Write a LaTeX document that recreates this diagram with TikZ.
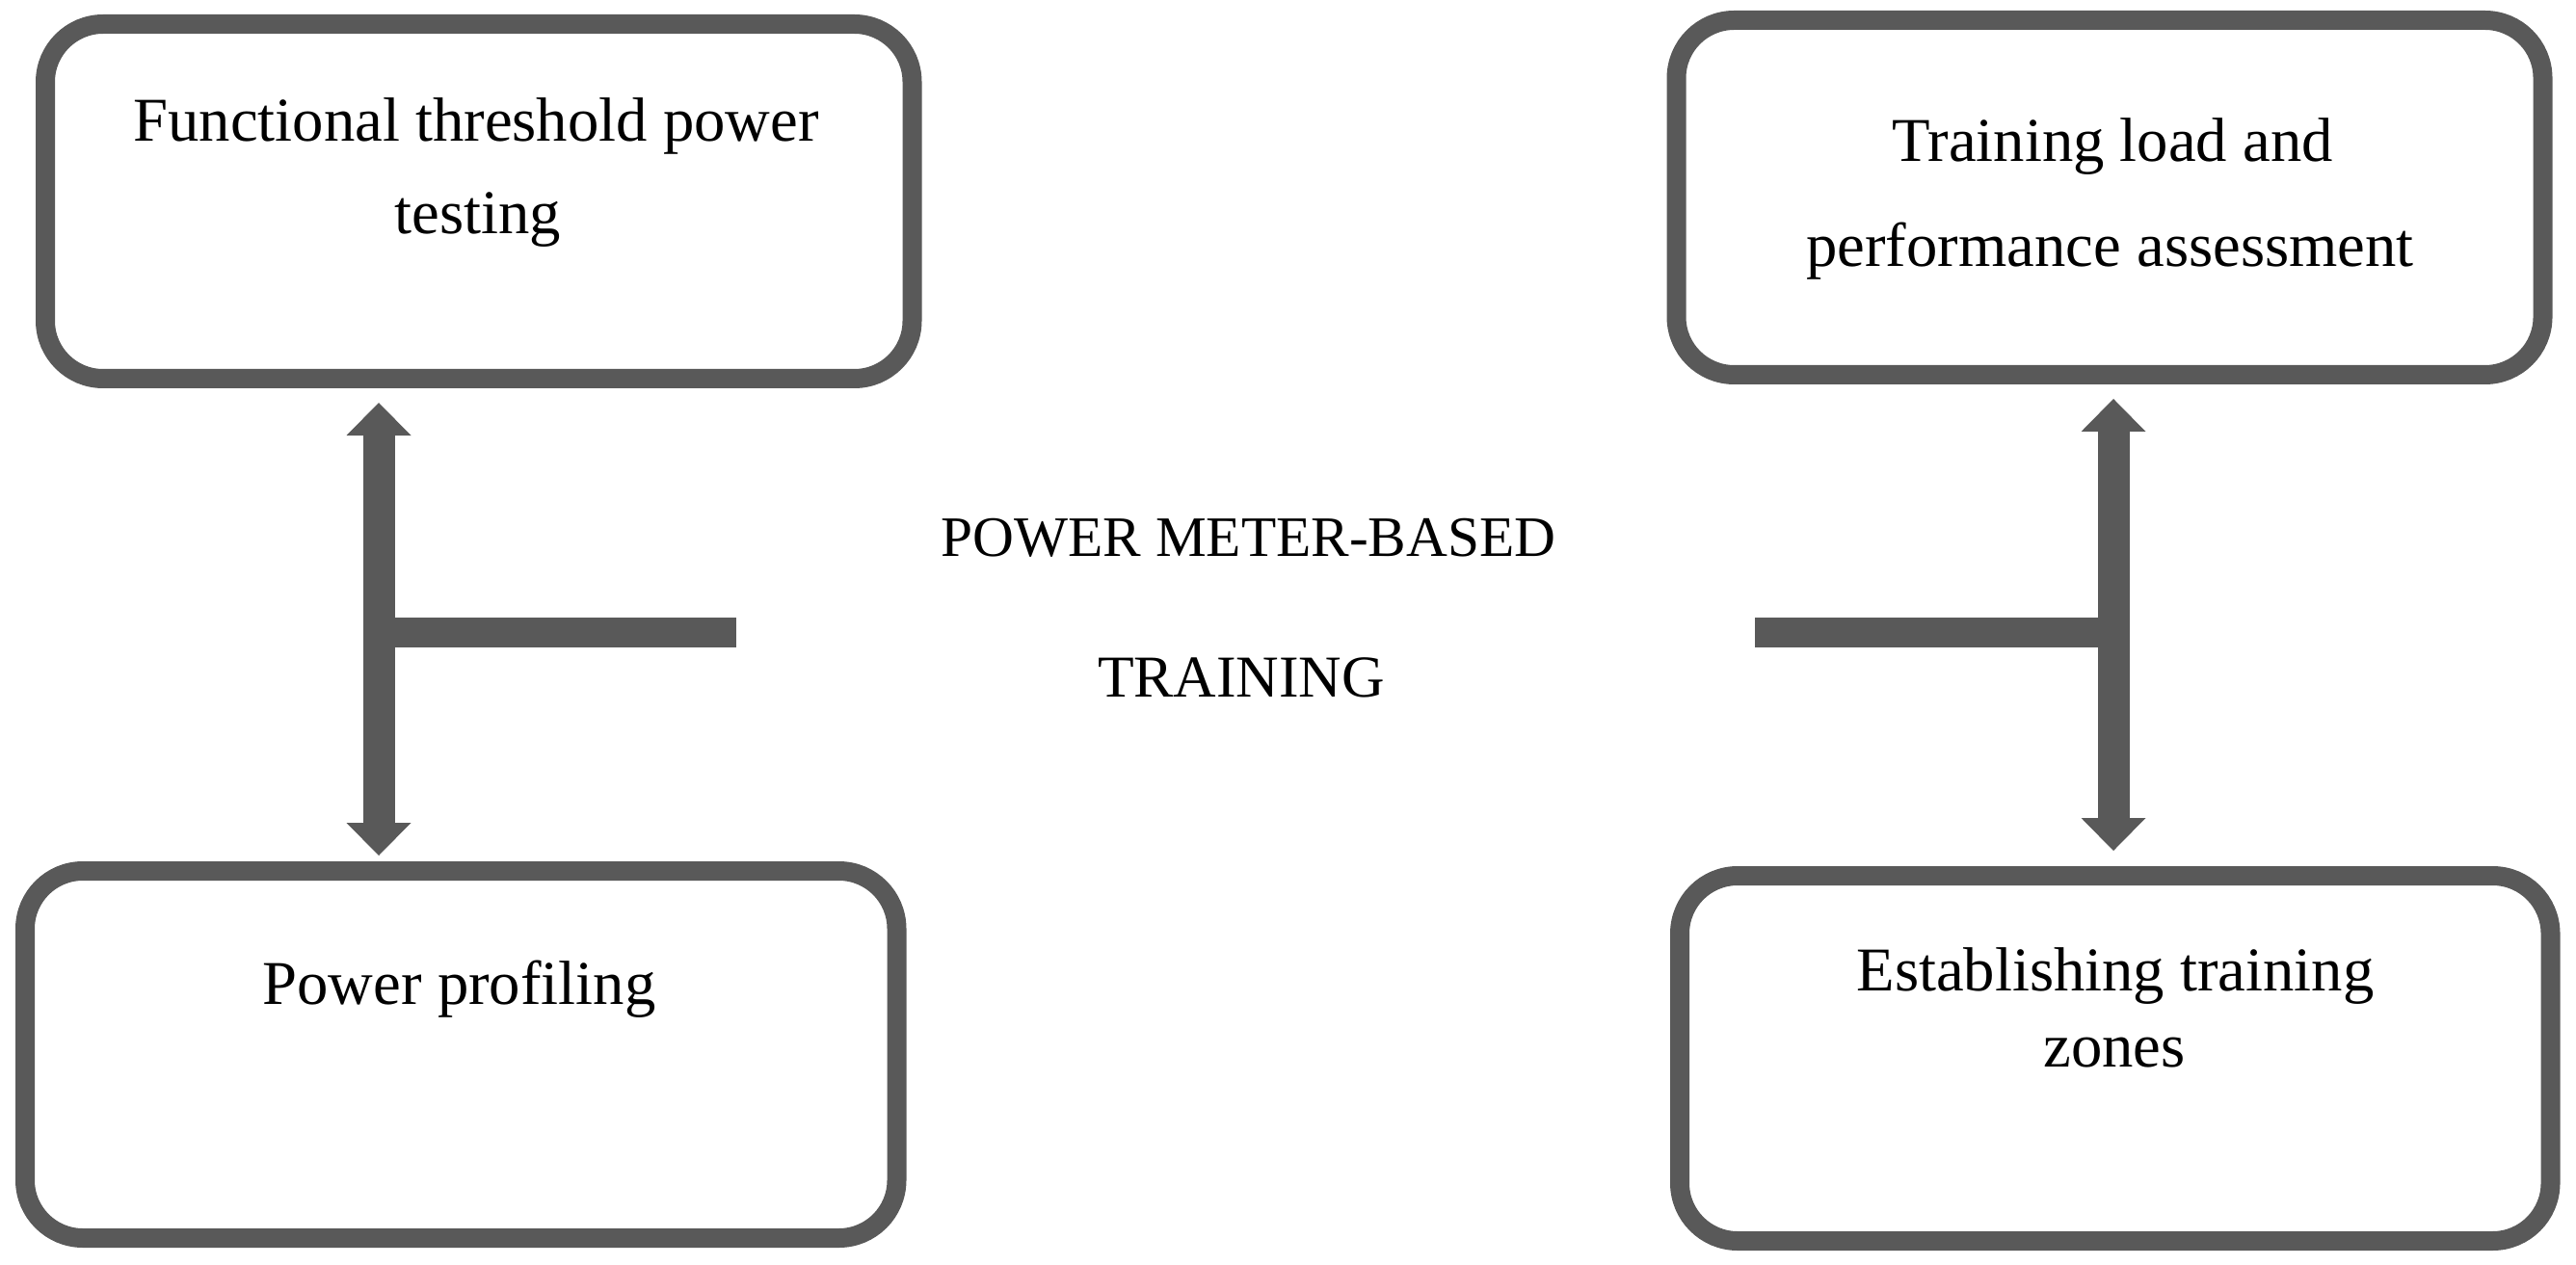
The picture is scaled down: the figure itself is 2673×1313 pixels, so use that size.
\documentclass[tikz,border=0pt]{standalone}
\usepackage{fontspec}
\setmainfont{Liberation Serif}
\usetikzlibrary{arrows.meta}
\definecolor{boxgray}{RGB}{89,89,89}
\begin{document}
\begin{tikzpicture}[x=0.3pt,y=-0.3pt,
  box/.style={draw=boxgray, line width=6pt, rounded corners=18pt, inner sep=0pt},
  lbl/.style={anchor=base, inner sep=0pt, font=\fontsize{19.4}{22}\selectfont},
  cap/.style={anchor=base, inner sep=0pt, font=\fontsize{#1}{22}\selectfont},
  conn/.style={draw=boxgray, line width=9.9pt},
  bar/.style={draw=boxgray, line width=9.3pt},
  dblarrow/.style={conn, {Triangle[width=20.1pt,length=10.2pt,line width=0pt]}-{Triangle[width=20.1pt,length=10.2pt,line width=0pt]}},
]
\useasboundingbox (0,0) rectangle (2673,1313);

% boxes
\node[box, minimum width=269.85pt, minimum height=110.4pt] (tl) at (496.75,209) {};
\node[box, minimum width=269.7pt, minimum height=110.4pt] (tr) at (2189,205) {};
\node[box, minimum width=271.35pt, minimum height=114.3pt] (bl) at (478.25,1094.5) {};
\node[box, minimum width=271.05pt, minimum height=113.7pt] (br) at (2194.75,1098.5) {};

% texts
\node[lbl] (tlA) at (494,147) {Functional threshold power};
\node[lbl] (tlB) at (496,243) {testing};
\node[lbl] (trA) at (2192,168) {Training load and};
\node[lbl] (trB) at (2189.5,277) {performance assessment};
\node[lbl] (blA) at (476.5,1042) {Power profiling};
\node[lbl] (brA) at (2195,1028) {Establishing training};
\node[lbl] (brB) at (2194,1107) {zones};
\node[cap=17.8] (cA) at (1295.5,577) {POWER METER-BASED};
\node[cap=18.5] (cB) at (1288,723) {TRAINING};

% left connector
\coordinate (la1) at (393,418);
\coordinate (la2) at (393,888);
\coordinate (lj) at (393,656.5);
\coordinate (lbar) at (764,656.5);
\draw[dblarrow] (la1) -- (la2);
\draw[bar] (lj) -- (lbar);

% right connector
\coordinate (ra1) at (2193,414);
\coordinate (ra2) at (2193,883);
\coordinate (rj) at (2193,656.5);
\coordinate (rbar) at (1821,656.5);
\draw[dblarrow] (ra1) -- (ra2);
\draw[bar] (rj) -- (rbar);
\end{tikzpicture}
\end{document}
